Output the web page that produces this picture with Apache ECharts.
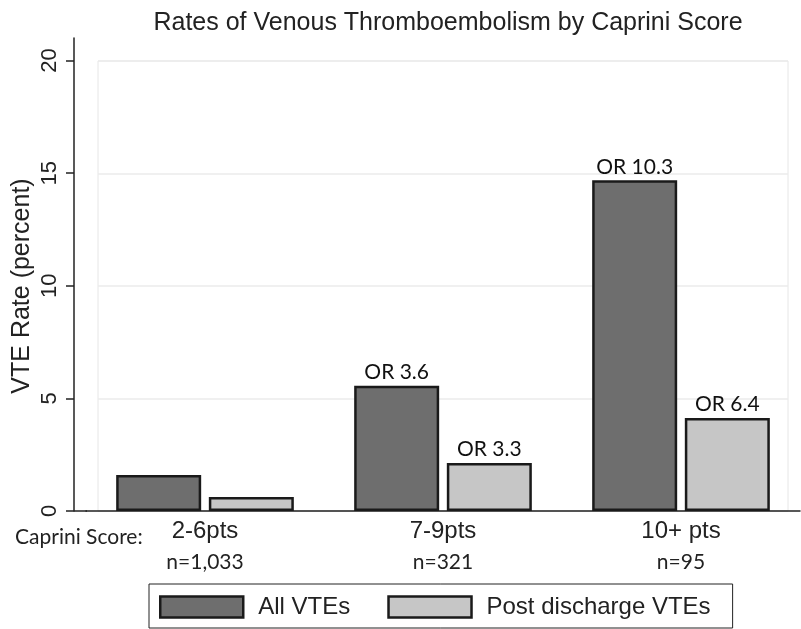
<!DOCTYPE html>
<html>
<head>
<meta charset="utf-8">
<script src="https://cdn.jsdelivr.net/npm/echarts@6/dist/echarts.min.js"></script>
<style>
  html, body { margin: 0; padding: 0; background: #fff; }
  #main { width: 801px; height: 629px; }
</style>
</head>
<body>
<div id="main"></div>
<script>
// data
const categories = ["2-6pts", "7-9pts", "10+ pts"];
const sampleSizes = ["n=1,033", "n=321", "n=95"];
const allVte = [1.6, 5.56, 14.68];
const postDischarge = [0.62, 2.13, 4.13];
const allOR = ["", "OR 3.6", "OR 10.3"];
const postOR = ["", "OR 3.3", "OR 6.4"];
const yTicks = [0, 5, 10, 15, 20];

const arial = "Liberation Sans, Arial, sans-serif";
const calibri = "Lato, Noto Sans, sans-serif";

const chart = echarts.init(document.getElementById("main"));

const barLabel = (labels) => ({
  show: true,
  position: "top",
  distance: 3,
  color: "#111",
  fontFamily: calibri,
  fontSize: 21,
  formatter: (p) => labels[p.dataIndex],
});

const option = {
  backgroundColor: "#fff",
  animation: false,
  title: [
    {
      text: "Rates of Venous Thromboembolism by Caprini Score",
      left: 443,
      top: 6,
      textAlign: "center",
      textStyle: { fontFamily: arial, fontSize: 25, fontWeight: "normal", color: "#222" },
    },
    {
      text: "Caprini Score:",
      left: 10,
      top: 522,
      textStyle: { fontFamily: calibri, fontSize: 21, fontWeight: "normal", color: "#222" },
    },
  ],
  grid: [
    // bars and the black axes
    { left: 86, right: 1, top: 38, bottom: 118 },
    // light plot region box with gridlines
    { left: 98, right: 13, top: 61, bottom: 118, show: true, borderColor: "#e6e6e6", borderWidth: 1, backgroundColor: "#fff", z: 0 },
  ],
  legend: {
    left: 149,
    top: 584,
    padding: [11, 22, 9, 10],
    itemWidth: 83,
    itemHeight: 21,
    itemGap: 37,
    icon: "rect",
    backgroundColor: "#fff",
    borderColor: "#222",
    borderWidth: 1,
    borderRadius: 0,
    itemStyle: { borderColor: "#1a1a1a", borderWidth: 2.5 },
    textStyle: { fontFamily: arial, fontSize: 24, color: "#222", lineHeight: 21, padding: [0, 0, 0, 10] },
  },
  xAxis: [
    {
      type: "category",
      gridIndex: 0,
      data: categories,
      axisLine: { lineStyle: { color: "#222", width: 1.5 } },
      axisTick: { show: false },
      axisLabel: {
        margin: 6,
        formatter: (v, i) => "{a|" + v + "}\n{b|" + sampleSizes[i] + "}",
        rich: {
          a: { fontFamily: arial, fontSize: 24, color: "#222", lineHeight: 28 },
          b: { fontFamily: calibri, fontSize: 21, color: "#222", lineHeight: 34 },
        },
      },
    },
    { type: "category", gridIndex: 1, data: categories, show: false },
  ],
  yAxis: [
    {
      type: "value",
      gridIndex: 0,
      min: 0,
      max: 21,
      offset: 12,
      axisLine: { show: true, lineStyle: { color: "#222", width: 1.5 } },
      axisTick: { show: true, length: 8, customValues: yTicks, lineStyle: { color: "#222", width: 1.5 } },
      axisLabel: {
        customValues: yTicks,
        rotate: 90,
        margin: 13,
        fontFamily: arial,
        fontSize: 22,
        color: "#222",
      },
      splitLine: { show: false },
    },
    {
      type: "value",
      gridIndex: 1,
      min: 0,
      max: 20,
      interval: 5,
      name: "VTE Rate (percent)",
      nameLocation: "middle",
      nameRotate: 90,
      nameGap: 63,
      nameTextStyle: { fontFamily: arial, fontSize: 25, color: "#222" },
      axisLine: { show: false },
      axisTick: { show: false },
      axisLabel: { show: false },
      splitLine: { lineStyle: { color: "#ebebeb", width: 1.5 } },
    },
  ],
  graphic: [
    {
      type: "line",
      shape: { x1: 74, y1: 511, x2: 87, y2: 511 },
      style: { stroke: "#222", lineWidth: 1.5 },
    },
  ],
  series: [
    {
      name: "All VTEs",
      type: "bar",
      xAxisIndex: 0,
      yAxisIndex: 0,
      data: allVte,
      barWidth: 85,
      barGap: "9%",
      itemStyle: { color: "#6e6e6e", borderColor: "#1a1a1a", borderWidth: 2.5 },
      label: barLabel(allOR),
      z: 3,
    },
    {
      name: "Post discharge VTEs",
      type: "bar",
      xAxisIndex: 0,
      yAxisIndex: 0,
      data: postDischarge,
      barWidth: 85,
      barGap: "9%",
      itemStyle: { color: "#c6c6c6", borderColor: "#1a1a1a", borderWidth: 2.5 },
      label: barLabel(postOR),
      z: 3,
    },
  ],
};

chart.setOption(option);
</script>
</body>
</html>
